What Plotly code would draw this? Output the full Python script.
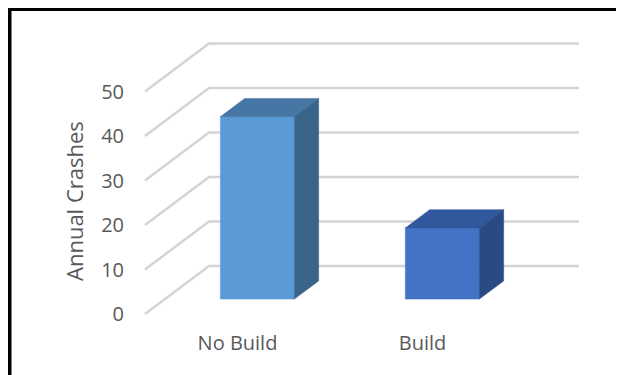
import plotly.graph_objects as go

# ---- data ----
categories = ["No Build", "Build"]
annual_crashes = [41, 16]
tick_values = [0, 10, 20, 30, 40, 50]
axis_title = "Annual Crashes"

# ---- style / geometry (page pixels; the page body adds an 8px offset) ----
W, H = 624, 375
OFF = 8
PLOT_L, PLOT_R, PLOT_T, PLOT_B = 125, 600, 25, 329   # page px of plot area
ML, MR = PLOT_L - OFF, W - (PLOT_R - OFF)
MT, MB = PLOT_T - OFF, H - (PLOT_B - OFF)
ORIG_X, ORIG_Y = 145, 314          # page px of (front plane, category -0.5, value 0)
PX_PER_CAT = 185
PX_PER_UNIT = 4.45
DEPTH_PX = (64, 48)                 # depth offset of back wall in pixels
DX = DEPTH_PX[0] / PX_PER_CAT       # in category units
DY = DEPTH_PX[1] / PX_PER_UNIT      # in value units
BAR_W = 0.4
F1, F2 = 0.31, 0.69                 # bar front / back depth fractions
front_colors = ["#5B9BD5", "#4472C4"]
top_colors = ["#4676A4", "#31579C"]
side_colors = ["#3A6489", "#2A4A84"]
grid_color = "#D4D4D4"
text_color = "#595959"
FONT = "Open Sans"

def x_of_px(px):
    return (px - ORIG_X) / PX_PER_CAT - 0.5

def y_of_px(py):
    return (ORIG_Y - py) / PX_PER_UNIT

def paper_x(px):
    return (px - PLOT_L) / (PLOT_R - PLOT_L)

def paper_y(py):
    return (PLOT_B - py) / (PLOT_B - PLOT_T)

x_range = [x_of_px(PLOT_L), x_of_px(PLOT_R)]
y_range = [y_of_px(PLOT_B), y_of_px(PLOT_T)]

fig = go.Figure()

# gridlines: left wall diagonal + back wall horizontal
gx, gy = [], []
x_front = -0.5
x_back_right = len(categories) - 0.5 + DX
for v in tick_values:
    gx += [x_front, x_front + DX, x_back_right, None]
    gy += [v, v + DY, v + DY, None]
fig.add_trace(go.Scatter(x=gx, y=gy, mode="lines",
                         line=dict(color=grid_color, width=2.5),
                         hoverinfo="skip", showlegend=False))

# 3D bars
tdx = (F2 - F1) * DX
for i, (cat, val) in enumerate(zip(categories, annual_crashes)):
    xl = i - BAR_W / 2 + F1 * DX
    xr = i + BAR_W / 2 + F1 * DX
    y0 = F1 * DY
    y1 = val + F1 * DY
    yb0 = F2 * DY
    yb1 = val + F2 * DY
    faces = [
        ([xl, xr, xr, xl, xl], [y0, y0, y1, y1, y0], front_colors[i]),
        ([xl, xr, xr + tdx, xl + tdx, xl], [y1, y1, yb1, yb1, y1], top_colors[i]),
        ([xr, xr + tdx, xr + tdx, xr, xr], [y0, yb0, yb1, y1, y0], side_colors[i]),
    ]
    for fx, fy, col in faces:
        fig.add_trace(go.Scatter(x=fx, y=fy, mode="lines", fill="toself",
                                 fillcolor=col, line=dict(color=col, width=0.5),
                                 hoverinfo="skip", showlegend=False))

fig.update_layout(
    width=W, height=H,
    margin=dict(l=ML, r=MR, t=MT, b=MB, pad=0),
    paper_bgcolor="white", plot_bgcolor="white",
    font=dict(family=FONT, size=20, color=text_color),
    xaxis=dict(range=x_range, showgrid=False, zeroline=False, showline=False,
               tickmode="array", tickvals=list(range(len(categories))),
               ticktext=categories, ticks="", fixedrange=True),
    yaxis=dict(range=y_range, showgrid=False, zeroline=False, showline=False,
               tickmode="array", tickvals=tick_values, ticks="", fixedrange=True),
    annotations=[dict(text=axis_title, textangle=-90, showarrow=False,
                      xref="paper", yref="paper",
                      x=paper_x(74), y=paper_y(201),
                      xanchor="center", yanchor="middle",
                      font=dict(family=FONT, size=22, color=text_color))],
    shapes=[
        dict(type="line", xref="paper", yref="paper",
             x0=paper_x(7), x1=paper_x(640), y0=paper_y(9), y1=paper_y(9),
             line=dict(color="black", width=4)),
        dict(type="line", xref="paper", yref="paper",
             x0=paper_x(9.5), x1=paper_x(9.5), y0=paper_y(7), y1=paper_y(400),
             line=dict(color="black", width=4)),
        dict(type="line", xref="paper", yref="paper",
             x0=paper_x(623), x1=paper_x(623), y0=paper_y(11), y1=paper_y(400),
             line=dict(color="#A0A0A0", width=1)),
    ],
    showlegend=False,
)

fig.write_html("out.html")
